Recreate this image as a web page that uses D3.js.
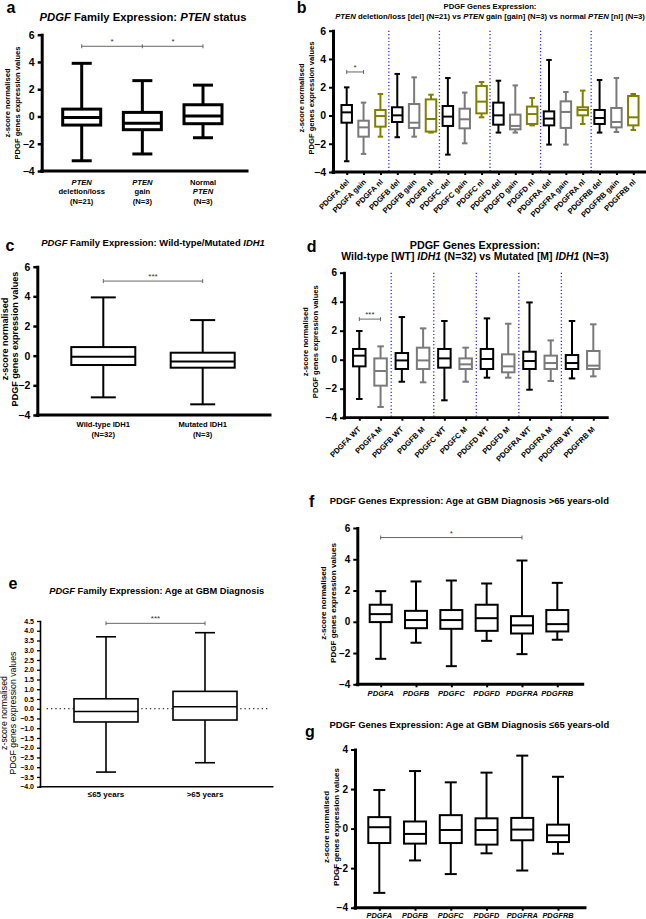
<!DOCTYPE html>
<html><head><meta charset="utf-8">
<script src="https://cdn.jsdelivr.net/npm/d3@7"></script>
<style>
body{margin:0;background:#fff}
svg{display:block}
text{font-family:Arial,"Liberation Sans",Helvetica,sans-serif}
</style>
</head><body>
<svg id="fig" width="646" height="919"></svg>
<script>
// ---------------- DATA ----------------
// each box: [min, q1, median, q3, max]
const genes = ["PDGFA","PDGFB","PDGFC","PDGFD","PDGFRA","PDGFRB"];

const aCats = ["del","gain","nl"];
const aLabels = [[["PTEN",1],["deletion/loss",0],["(N=21)",0]],[["PTEN",1],["gain",0],["(N=3)",0]],[["Normal",0],["PTEN",1],["(N=3)",0]]];
const aBoxes = [[-3.25,-0.63,-0.07,0.54,3.9],[-2.75,-0.97,-0.49,0.3,2.63],[-1.56,-0.53,0.03,0.86,2.3]];

const bGroups = ["del","gain","nl"];
const bCats = genes.flatMap(g => bGroups.map(s => g + " " + s));
const bBoxes = [
  [-3.24,-0.51,0.22,0.74,1.99],[-2.72,-1.5,-0.84,-0.37,0.91],[-1.5,-0.79,-0.04,0.39,1.52],
  [-1.54,-0.46,0.01,0.58,2.94],[-1.5,-0.88,-0.51,0.81,2.7],[-1.21,-1.14,-0.25,1.14,1.47],
  [-2.77,-0.74,-0.08,0.67,2.65],[-1.97,-0.91,-0.27,0.48,1.62],[-0.13,0.15,0.98,2.09,2.37],
  [-1.21,-0.65,0.01,0.91,2.46],[-1.21,-0.98,-0.74,0.06,2.13],[-0.7,-0.6,0.1,0.63,1.24],
  [-2.06,-0.7,-0.22,0.29,3.93],[-2.06,-0.88,0.25,1.0,1.66],[-0.6,0.01,0.39,0.58,1.76],
  [-1.21,-0.6,-0.18,0.39,2.51],[-1.17,-0.84,-0.46,0.53,2.65],[-1.03,-0.7,-0.13,1.38,1.52]
];

const cCats = ["Wild-type IDH1","Mutated IDH1"];
const cN = ["(N=32)","(N=3)"];
const cBoxes = [[-2.81,-0.63,-0.07,0.58,3.93],[-3.28,-0.81,-0.4,0.2,2.4]];

const dGroups = ["WT","M"];
const dCats = genes.flatMap(g => dGroups.map(s => g + " " + s));
const dBoxes = [
  [-2.71,-0.46,0.28,0.74,1.98],[-3.26,-1.79,-0.78,0.09,0.92],
  [-1.52,-0.64,-0.05,0.46,2.94],[-1.56,-0.64,-0.05,0.83,2.16],
  [-2.8,-0.55,0.09,0.74,2.67],[-1.52,-0.64,-0.32,0.09,0.83],
  [-1.24,-0.64,0.05,0.74,2.85],[-1.24,-0.87,-0.46,0.37,2.48],
  [-2.07,-0.64,-0.09,0.55,3.95],[-1.47,-0.64,-0.23,0.28,1.33],
  [-1.29,-0.64,-0.23,0.32,2.67],[-1.15,-0.64,-0.41,0.6,2.44]
];

const eCats = ["\u226465 years",">65 years"];
const eBoxes = [[-3.25,-0.68,-0.14,0.51,3.69],[-2.77,-0.58,0.1,0.89,3.9]];

const fBoxes = [[-2.37,-0.02,0.49,1.09,1.96],[-1.34,-0.41,0.11,0.7,2.58],[-2.84,-0.45,0.11,0.75,2.64],
  [-1.22,-0.58,0.23,1.09,2.45],[-2.07,-0.75,-0.23,0.36,3.92],[-1.15,-0.62,-0.15,0.75,2.49]];
const gBoxes = [[-3.25,-0.73,0.07,0.58,1.95],[-1.61,-0.76,-0.27,0.36,2.91],[-2.3,-0.73,-0.07,0.68,2.34],
  [-1.25,-0.81,-0.07,0.52,2.83],[-2.12,-0.59,-0.05,0.54,3.69],[-1.27,-0.68,-0.34,0.2,2.62]];

const ticks10 = [-4,-2,0,2,4,6];
const ticksG = [-4,-2,0,2,4];
const ticksE = d3.range(-8, 10).map(v => v / 2);

// ---------------- HELPERS ----------------
const svg = d3.select("#fig");
const BLACK = "#000", GREY = "#7a7a7a", OLIVE = "#808000", SEP = "#2a2aff";

function richText(parent, x, y, parts, size, weight, width) {
  const t = parent.append("text").attr("x", x).attr("y", y).attr("text-anchor", "middle")
    .attr("font-size", size).attr("font-weight", weight).attr("fill", "#000");
  parts.forEach(p => t.append("tspan").attr("font-style", p[1] ? "italic" : "normal").text(p[0]));
  if (width) { const L = t.node().getComputedTextLength(); if (L > 0) t.attr("font-size", size * width / L); }
  return t;
}
function panelLabel(s, x, y) {
  svg.append("text").attr("x", x).attr("y", y).attr("text-anchor", "middle")
    .attr("font-size", 16).attr("font-weight", "bold").text(s);
}
function yTitle(x1, x2, cy, w, weight) {
  const g2 = svg.append("g").attr("transform", `translate(${x2},${cy}) rotate(-90)`);
  const t2 = richText(g2, 0, 0, [["PDGF genes expression values", 0]], 8, weight, w).attr("dy", "0.35em");
  const g1 = svg.append("g").attr("transform", `translate(${x1},${cy}) rotate(-90)`);
  richText(g1, 0, 0, [["z-score normalised", 0]], +t2.attr("font-size"), weight).attr("dy", "0.35em");
}

function boxPanel(o) {
  const g = svg.append("g");
  const y = d3.scaleLinear().domain(o.yDomain).range([o.yBottom, o.yTop]);
  const x = d3.scalePoint().domain(o.cats).range([o.xFirst, o.xLast]);
  (o.separators || []).forEach(i => {
    const xs = (x(o.cats[i - 1]) + x(o.cats[i])) / 2;
    g.append("line").attr("x1", xs).attr("x2", xs).attr("y1", o.yTop).attr("y2", o.yBottom)
      .attr("stroke", SEP).attr("stroke-width", 1.3).attr("stroke-dasharray", "1.2,2.2");
  });
  if (o.zeroLine) {
    g.append("line").attr("x1", o.zeroLine[0]).attr("x2", o.zeroLine[1]).attr("y1", y(0)).attr("y2", y(0))
      .attr("stroke", "#000").attr("stroke-width", 1).attr("stroke-dasharray", "1.3,3");
  }
  o.cats.forEach((c, i) => {
    const [mn, q1, md, q3, mx] = o.boxes[i];
    const cx = x(c);
    const col = o.colors ? o.colors[i] : BLACK;
    const bg = g.append("g").attr("stroke", col).attr("stroke-width", o.sw).attr("fill", "none");
    bg.append("line").attr("x1", cx).attr("x2", cx).attr("y1", y(mx)).attr("y2", y(q3));
    bg.append("line").attr("x1", cx).attr("x2", cx).attr("y1", y(q1)).attr("y2", y(mn));
    [mn, mx].forEach(v => bg.append("line").attr("x1", cx - o.capW / 2).attr("x2", cx + o.capW / 2)
      .attr("y1", y(v)).attr("y2", y(v)));
    bg.append("rect").attr("x", cx - o.boxW / 2).attr("y", y(q3)).attr("width", o.boxW)
      .attr("height", y(q1) - y(q3)).attr("fill", "#fff");
    bg.append("line").attr("x1", cx - o.boxW / 2).attr("x2", cx + o.boxW / 2).attr("y1", y(md)).attr("y2", y(md));
  });
  const ya = g.append("g").attr("transform", `translate(${o.axisX},0)`)
    .call(d3.axisLeft(y).tickValues(o.yTicks).tickSize(o.tickLen).tickSizeOuter(0)
      .tickFormat(o.fmt || d3.format("d")));
  ya.select(".domain").attr("stroke-width", o.axisW).attr("stroke-linecap", "square");
  ya.selectAll(".tick line").attr("stroke-width", o.tickW);
  ya.selectAll(".tick text").attr("font-size", o.yFont).attr("font-weight", "bold")
    .attr("font-family", 'Arial,"Liberation Sans",sans-serif').attr("fill", "#000");
  g.append("line").attr("x1", o.axisX).attr("x2", o.xEnd).attr("y1", o.yBottom).attr("y2", o.yBottom)
    .attr("stroke", "#000").attr("stroke-width", o.axisW).attr("stroke-linecap", "square");
  if (o.xTickLen) {
    const xa = g.append("g").attr("transform", `translate(0,${o.yBottom})`)
      .call(d3.axisBottom(x).tickSize(o.xTickLen).tickSizeOuter(0).tickFormat(""));
    xa.select(".domain").remove();
    xa.selectAll(".tick line").attr("stroke-width", o.tickW);
  }
  (o.sig || []).forEach(s => {
    const x1 = x(o.cats[s.a]), x2 = x(o.cats[s.b]), yy = y(s.v);
    const sg = g.append("g").attr("stroke", "#555").attr("stroke-width", 0.9);
    sg.append("line").attr("x1", x1).attr("x2", x2).attr("y1", yy).attr("y2", yy);
    [x1, x2].concat(s.mid ? [x(o.cats[s.mid])] : []).forEach(xx =>
      sg.append("line").attr("x1", xx).attr("x2", xx).attr("y1", yy - 2).attr("y2", yy + 2));
    (s.stars || [[s.text, (x1 + x2) / 2]]).forEach(st =>
      g.append("text").attr("x", st[1]).attr("y", yy - 2).attr("text-anchor", "middle")
        .attr("font-size", 8).attr("fill", "#333").text(st[0]));
  });
  return { x, y, g };
}

// ---------------- PANEL a ----------------
panelLabel("a", 11, 12.7);
richText(svg, 143, 20.5, [["PDGF", 1], [" Family Expression: ", 0], ["PTEN", 1], [" status", 0]], 10.5, "bold", 207);
yTitle(7, 17, 103, 113, "bold");
const A = boxPanel({ cats: aCats, boxes: aBoxes, yDomain: [-4, 6], yBottom: 171, yTop: 34.7,
  xFirst: 81.7, xLast: 203, axisX: 41.7, xEnd: 247, yTicks: ticks10, tickLen: 4, tickW: 2.5, axisW: 3,
  yFont: 10.5, boxW: 38, capW: 20, sw: 3,
  sig: [{ a: 0, b: 2, mid: 1, v: 5.15, stars: [["*", 112], ["*", 173]] }] });
aCats.forEach((c, i) => aLabels[i].forEach((l, j) =>
  richText(svg, A.x(c), 184.5 + j * 9.6, [l], 7.6, "bold")));

// ---------------- PANEL b ----------------
panelLabel("b", 301.7, 12.7);
richText(svg, 490, 9, [["PDGF Genes Expression:", 0]], 7.5, "bold", 93);
richText(svg, 490, 18.5, [["PTEN", 1], [" deletion/loss [del] (N=21) vs ", 0], ["PTEN", 1],
  [" gain [gain] (N=3) vs normal ", 0], ["PTEN", 1], [" [nl] (N=3)", 0]], 7, "bold", 310);
yTitle(301.7, 311.7, 98, 113, "bold");
const B = boxPanel({ cats: bCats, boxes: bBoxes, colors: bCats.map((c, i) => [BLACK, GREY, OLIVE][i % 3]),
  yDomain: [-4, 6], yBottom: 172, yTop: 30.7, xFirst: 346.7, xLast: 633.3, axisX: 333, xEnd: 646,
  yTicks: ticks10, tickLen: 4, tickW: 2, axisW: 3, yFont: 10.5, boxW: 10.5, capW: 5.5, sw: 2,
  xTickLen: 3, separators: [3, 6, 9, 12, 15],
  sig: [{ a: 0, b: 1, v: 3.08, text: "*" }] });
B.g.selectAll(".xl").data(bCats).join("text").attr("class", "xl")
  .attr("transform", d => `translate(${B.x(d) + 3},${172 + 10.5}) rotate(-45)`)
  .attr("text-anchor", "end").attr("font-size", 7.6).attr("font-weight", "bold").text(d => d);

// ---------------- PANEL c ----------------
panelLabel("c", 10, 251);
richText(svg, 153, 245.5, [["PDGF", 1], [" Family Expression: Wild-type/Mutated ", 0], ["IDH1", 1]], 8.5, "bold", 224);
yTitle(5, 15, 339, 135, "bold");
const C = boxPanel({ cats: cCats, boxes: cBoxes, yDomain: [-4, 6], yBottom: 415, yTop: 266.7,
  xFirst: 103.3, xLast: 202.7, axisX: 37.3, xEnd: 270, yTicks: ticks10, tickLen: 4, tickW: 2.5, axisW: 3,
  yFont: 10.5, boxW: 64, capW: 25, sw: 2,
  sig: [{ a: 0, b: 1, v: 5.03, text: "***" }] });
cCats.forEach((c, i) => {
  richText(svg, C.x(c), 427, [[c, 0]], 7.6, "bold");
  richText(svg, C.x(c), 437, [[cN[i], 0]], 7.6, "bold");
});

// ---------------- PANEL d ----------------
panelLabel("d", 311.7, 252);
richText(svg, 475, 249, [["PDGF Genes Expression:", 0]], 10, "bold", 130.7);
richText(svg, 475, 259.5, [["Wild-type [WT] ", 0], ["IDH1", 1], [" (N=32) vs Mutated [M] ", 0], ["IDH1", 1], [" (N=3)", 0]], 9.5, "bold", 268);
yTitle(305, 315, 341.7, 113, "bold");
const D = boxPanel({ cats: dCats, boxes: dBoxes, colors: dCats.map((c, i) => i % 2 ? GREY : BLACK),
  yDomain: [-4, 6], yBottom: 417.7, yTop: 272.7, xFirst: 359.3, xLast: 593.3, axisX: 344, xEnd: 607.3,
  yTicks: ticks10, tickLen: 4, tickW: 2, axisW: 2.8, yFont: 10, boxW: 12.5, capW: 6.5, sw: 2,
  xTickLen: 3, separators: [2, 4, 6, 8, 10],
  sig: [{ a: 0, b: 1, v: 2.8, text: "***" }] });
D.g.selectAll(".xl").data(dCats).join("text").attr("class", "xl")
  .attr("transform", d => `translate(${D.x(d) + 2},${417.7 + 12}) rotate(-45)`)
  .attr("text-anchor", "end").attr("font-size", 7.6).attr("font-weight", "bold").text(d => d);

// ---------------- PANEL e ----------------
panelLabel("e", 13, 589.3);
richText(svg, 156.7, 594, [["PDGF", 1], [" Family Expression: Age at GBM Diagnosis", 0]], 8, "bold", 215);
yTitle(3.5, 13.3, 713, 123, "normal");
const E = boxPanel({ cats: eCats, boxes: eBoxes, yDomain: [-4, 4.5], yBottom: 786.7, yTop: 621,
  xFirst: 106, xLast: 205, axisX: 40, xEnd: 272.7, yTicks: ticksE, fmt: d3.format(".1f"),
  tickLen: 3, tickW: 1.3, axisW: 1.6, yFont: 7, boxW: 64, capW: 20, sw: 1.6, zeroLine: [46.7, 270],
  sig: [{ a: 0, b: 1, v: 4.38, text: "***" }] });
eCats.forEach(c => richText(svg, E.x(c), 797, [[c, 0]], 8, "bold"));

// ---------------- PANEL f ----------------
panelLabel("f", 311.7, 507.3);
richText(svg, 469.3, 504, [["PDGF Genes Expression: Age at GBM Diagnosis >65 years-old", 0]], 8.7, "bold", 279);
yTitle(323, 333, 603, 120, "bold");
const F = boxPanel({ cats: genes, boxes: fBoxes, yDomain: [-4, 6], yBottom: 684.3, yTop: 528,
  xFirst: 380.7, xLast: 557.3, axisX: 357.3, xEnd: 582.7, yTicks: ticks10, tickLen: 4, tickW: 2,
  axisW: 3, yFont: 10, boxW: 22, capW: 11, sw: 2, xTickLen: 3,
  sig: [{ a: 0, b: 4, v: 5.39, text: "*" }] });
genes.forEach(c => richText(svg, F.x(c), 696, [[c, 1]], 7.6, "bold"));

// ---------------- PANEL g ----------------
panelLabel("g", 310, 736.7);
richText(svg, 469.3, 727.5, [["PDGF Genes Expression: Age at GBM Diagnosis \u226465 years-old", 0]], 8.7, "bold", 280);
yTitle(326, 336.7, 827, 118, "bold");
const G = boxPanel({ cats: genes, boxes: gBoxes, yDomain: [-4, 4], yBottom: 907.7, yTop: 749.5,
  xFirst: 379.3, xLast: 558, axisX: 355, xEnd: 585, yTicks: ticksG, tickLen: 4, tickW: 2,
  axisW: 3, yFont: 10, boxW: 22, capW: 12, sw: 2, xTickLen: 3 });
genes.forEach(c => richText(svg, G.x(c), 917.6, [[c, 1]], 7.4, "bold"));
</script>
</body></html>
